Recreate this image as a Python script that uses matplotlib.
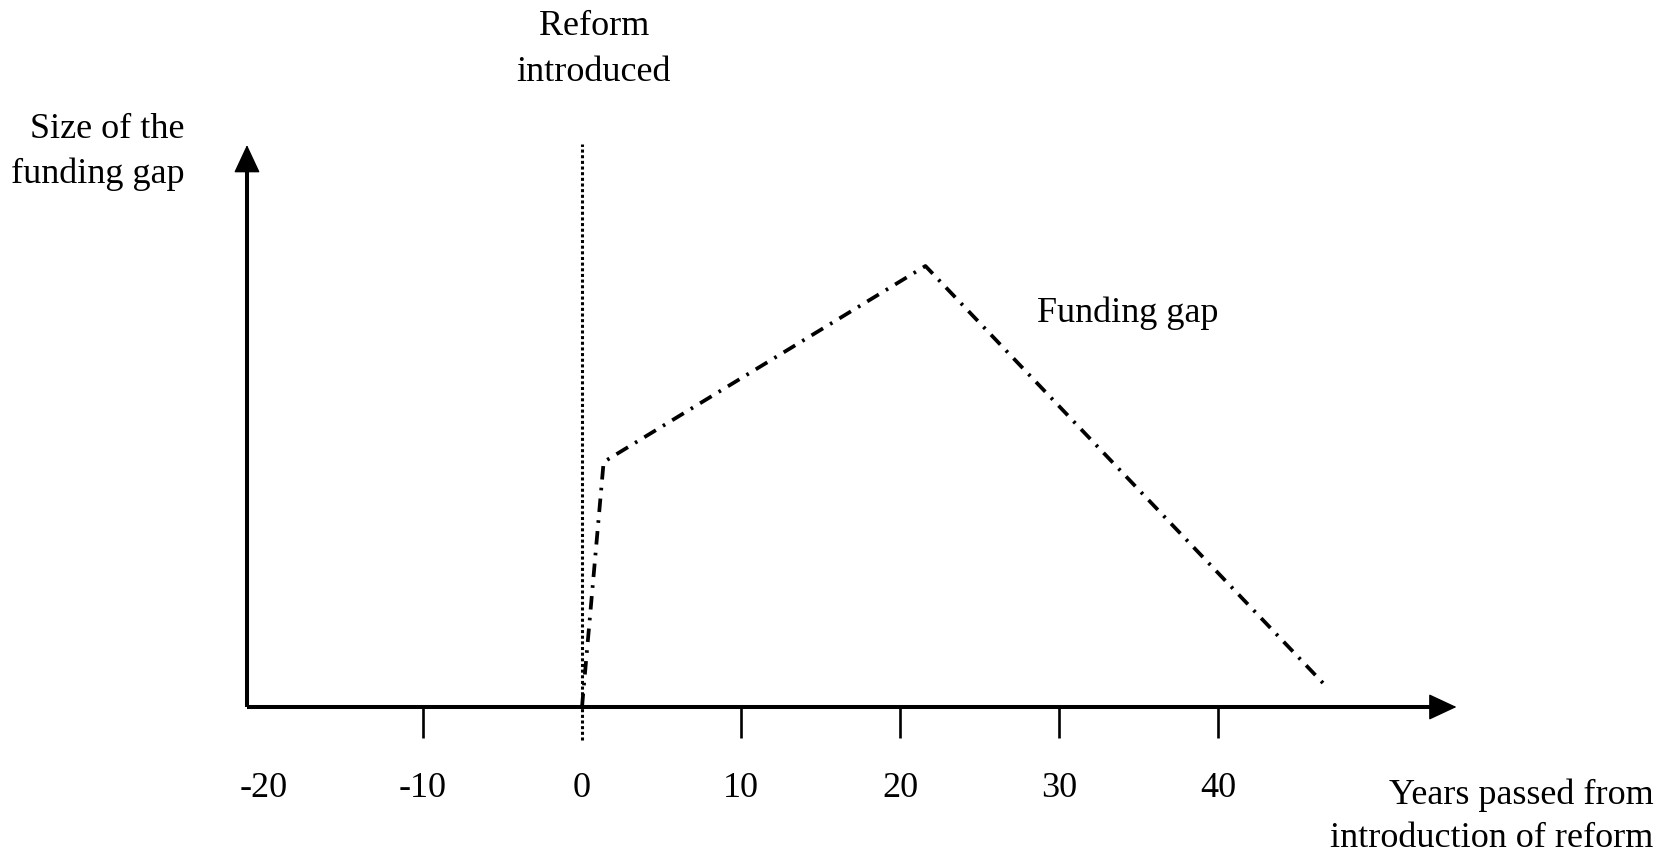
import matplotlib
matplotlib.use("Agg")
import matplotlib.pyplot as plt

# ---- data ----
years = [0, 1.36, 21.6, 46.9]          # years passed from introduction of reform
funding_gap = [0, 24.5, 44.1, 1.9]     # size of the funding gap (arbitrary units)
tick_values = [-20, -10, 0, 10, 20, 30, 40]
tick_labels = ["-20", "-10", "0", "10", "20", "30", "40"]
reform_year = 0

plt.rcParams['font.family'] = ['Liberation Serif', 'DejaVu Serif']

fig = plt.figure(figsize=(16.75, 8.54), dpi=100)
ax = fig.add_axes([0, 0, 1, 1])
ax.set_xlim(-582 / 15.9, (1675 - 582) / 15.9)
ax.set_ylim(-14.6, 70.8)
ax.axis('off')

# axes with arrows
y_axis_x = -21.07
x_tip = 55.0
y_tip = 56.2
ax.plot([y_axis_x, x_tip - 1.0], [0, 0], color='black', lw=2.9, solid_capstyle='butt')
ax.plot([y_axis_x, y_axis_x], [0, y_tip - 1.5], color='black', lw=2.9, solid_capstyle='butt')
arrow_kw = dict(arrowstyle='-|>,head_length=0.9,head_width=0.42', color='black',
                lw=1.0, mutation_scale=20, shrinkA=0, shrinkB=0)
ax.annotate('', xy=(x_tip, 0), xytext=(x_tip - 3, 0), arrowprops=arrow_kw)
ax.annotate('', xy=(y_axis_x, y_tip), xytext=(y_axis_x, y_tip - 5), arrowprops=arrow_kw)

# tick marks (not at -20, which coincides with the y axis)
for v in tick_values:
    if v not in (-20, reform_year):
        ax.plot([v, v], [0, -3.1], color='black', lw=1.9, solid_capstyle='butt')
for v, lab in zip(tick_values, tick_labels):
    ax.text(v, -8.1, lab, ha='center', va='center', fontsize=26)

# reform line (dotted)
ax.plot([reform_year, reform_year], [-3.3, 56.3], color='black', lw=2.2,
        linestyle=(0, (1.0, 0.85)))

# funding gap curve (dash-dot)
ax.plot(years, funding_gap, color='black', lw=2.7,
        linestyle=(0, (3.6, 2.2, 0.7, 2.2)), solid_joinstyle='miter')

# text annotations
ax.text(0.75, 65.8, "Reform\nintroduced", ha='center', va='center', fontsize=26,
        linespacing=1.52)
ax.text(-25.0, 55.6, "Size of the\nfunding gap", ha='right', va='center', fontsize=26,
        linespacing=1.42, multialignment='right')
ax.text(34.3, 39.5, "Funding gap", ha='center', va='center', fontsize=26)
ax.text(67.4, -10.9, "Years passed from\nintroduction of reform", ha='right', va='center',
        fontsize=26, linespacing=1.38, multialignment='right')

fig.savefig("out.png", dpi=100, facecolor='white')
